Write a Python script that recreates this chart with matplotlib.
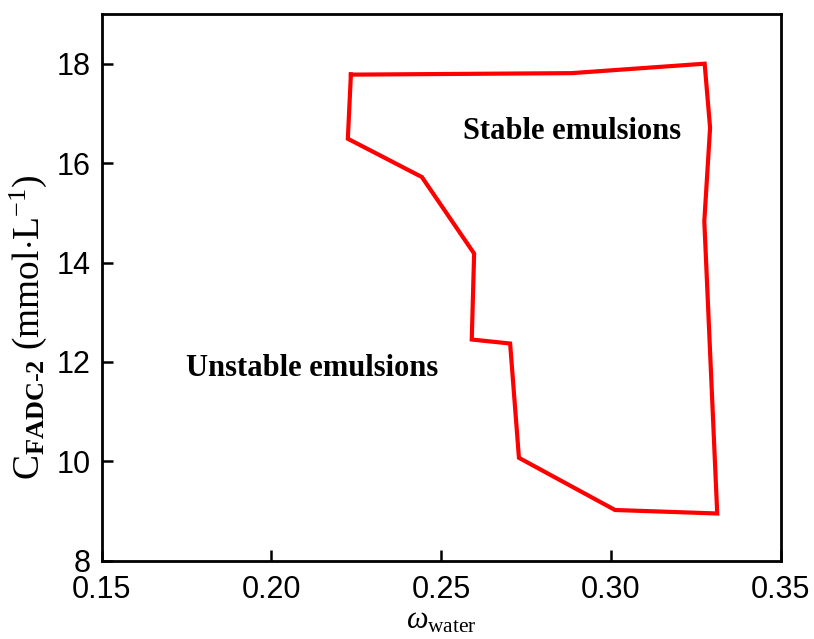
import matplotlib
matplotlib.use("Agg")
import matplotlib.pyplot as plt

# boundary of the stable region (water fraction, FADC-2 concentration)
omega_water = [0.2234, 0.2225, 0.2443, 0.2597, 0.2590, 0.2703, 0.2729,
               0.3012, 0.3313, 0.3275, 0.3292, 0.3276, 0.2884, 0.2234]
c_fadc2 = [17.78, 16.49, 15.72, 14.18, 12.45, 12.37, 10.07,
           9.02, 8.95, 14.83, 16.71, 18.00, 17.81, 17.78]

x_ticks = [0.15, 0.20, 0.25, 0.30, 0.35]
y_ticks = [8, 10, 12, 14, 16, 18]

plt.rcParams["mathtext.fontset"] = "custom"
plt.rcParams["mathtext.rm"] = "Liberation Serif"
plt.rcParams["mathtext.it"] = "Liberation Serif:italic"
plt.rcParams["mathtext.bf"] = "Liberation Serif:bold"

fig = plt.figure(figsize=(8.14, 6.39), dpi=100)
ax = fig.add_axes([101.7 / 814, 1 - 560.7 / 639, 679 / 814, 546.7 / 639])

ax.plot(omega_water, c_fadc2, color="#ff0000", lw=3, solid_joinstyle="miter")

ax.text(0.2884, 16.63, "Stable emulsions", family="Liberation Serif",
        weight="bold", fontsize=22, ha="center", va="center")
ax.text(0.2119, 11.86, "Unstable emulsions", family="Liberation Serif",
        weight="bold", fontsize=22, ha="center", va="center")

ax.set_xlim(0.15, 0.35)
ax.set_ylim(8, 19)
ax.set_xticks(x_ticks)
ax.set_yticks(y_ticks)
ax.set_xticklabels([f"{v:.2f}" for v in x_ticks])
for lab in ax.get_xticklabels() + ax.get_yticklabels():
    lab.set_family("Liberation Sans")
    lab.set_fontsize(22)
ax.tick_params(direction="in", length=8, width=1.8)
ax.tick_params(axis="x", pad=10)
ax.tick_params(axis="y", pad=8)
for sp in ax.spines.values():
    sp.set_linewidth(2)

ax.set_xlabel(r"$\omega_{\mathrm{water}}$", fontsize=22)
ax.set_ylabel(r"$\mathrm{C}_{\mathbf{FADC\text{-}2}}\ \mathrm{(mmol{\cdot}L^{-1})}$",
              fontsize=27)
ax.yaxis.set_label_coords(-0.077, 0.427)
ax.xaxis.set_label_coords(0.5, -0.083)

fig.savefig("out.png", dpi=100)
